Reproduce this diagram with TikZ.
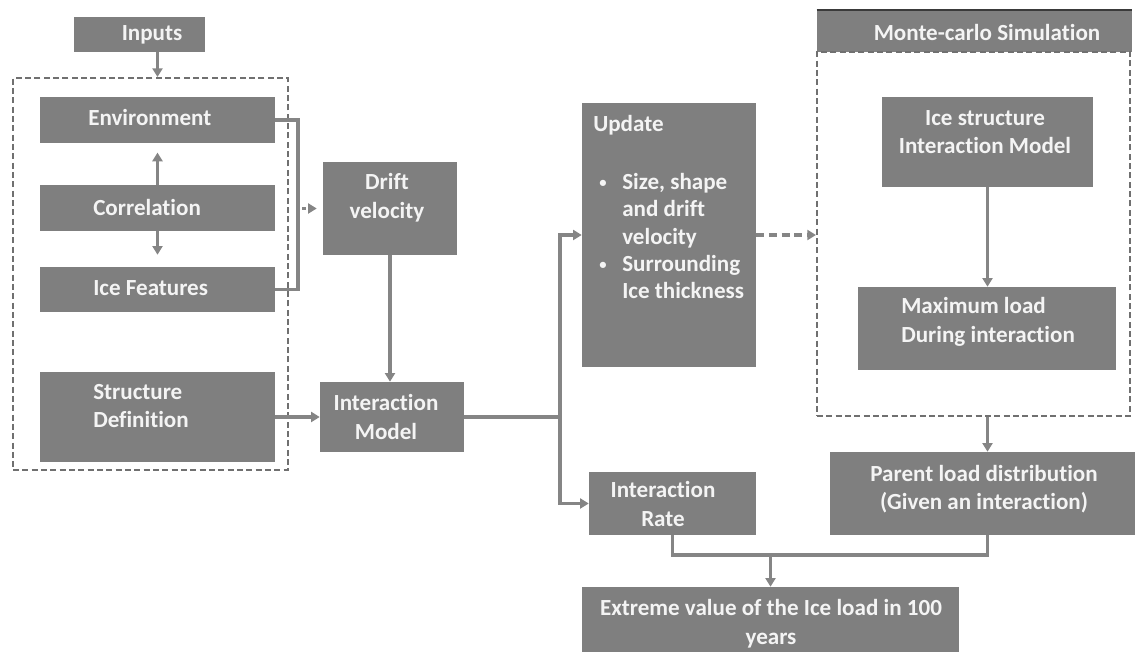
\documentclass[tikz,border=0pt]{standalone}
\usepackage{fontspec}
\setmainfont{Carlito}[Ligatures=NoCommon]
\usetikzlibrary{arrows.meta,calc}
\definecolor{boxgray}{HTML}{7F7F7F}
\definecolor{linegray}{HTML}{858585}
\definecolor{dashgray}{HTML}{707070}
\definecolor{darkline}{HTML}{3A3A3A}
\definecolor{txt}{HTML}{F4F4F4}
\newcommand\smbul{\raisebox{1.2pt}{\fontsize{11}{11}\selectfont\textbullet}}
\tikzset{
  box/.style={fill=boxgray, draw=none, inner sep=0pt},
  wh/.style 2 args={minimum width=#1*0.75pt, minimum height=#2*0.75pt},
  lbl/.style={text=txt, inner sep=0pt, font=\bfseries\fontsize{17.3}{21.5}\selectfont},
  conn/.style={draw=linegray, line width=2.3pt},
  arr/.style={conn, -{Triangle[length=6.5pt,width=7.5pt]}},
  dbox/.style={draw=dashgray, line width=1.5pt, dash pattern=on 4.5pt off 2.5pt, inner sep=0pt},
}
\begin{document}
\begin{tikzpicture}[x=0.75pt,y=-0.75pt]
\useasboundingbox (0,0) rectangle (1140,655);

% dashed frames
\node[dbox, wh={275}{392}] (inbox) at (150.5,274) {};
\node[box, wh={315}{42}] (mchead) at (974.5,31) {};
\draw[darkline, line width=1.5pt] (mchead.north west) -- (mchead.north east);
\node[dbox, wh={313}{364}] (mcbox) at (973.5,234) {};

% boxes
\node[box, wh={131}{35}]  (inputs)  at (139.5,34.5) {};
\node[box, wh={235}{46}]  (env)     at (157.5,120) {};
\node[box, wh={235}{46}]  (corr)    at (157.5,208) {};
\node[box, wh={235}{45}]  (icef)    at (157.5,289.5) {};
\node[box, wh={235}{90}]  (struct)  at (157.5,417) {};
\node[box, wh={134}{93}]  (drift)   at (390,208.5) {};
\node[box, wh={144}{70}]  (intm)    at (392,417) {};
\node[box, wh={174}{264}] (update)  at (669,235) {};
\node[box, wh={211}{90}]  (isim)    at (987.5,142) {};
\node[box, wh={258}{83}]  (maxl)    at (987,328.5) {};
\node[box, wh={305}{83}]  (parent)  at (982.5,493.5) {};
\node[box, wh={167}{63}]  (irate)   at (672.5,503.5) {};
\node[box, wh={377}{65}]  (extreme) at (770.5,619.5) {};

% texts
\node[lbl] (t-in) at (152,35) {Inputs};
\node[lbl, anchor=west] (t-env) at (88,117) {Environment};
\node[lbl, anchor=west] (t-corr) at (93,207) {Correlation};
\node[lbl, anchor=west] (t-icef) at (93,288) {Ice Features};
\node[lbl, anchor=west, align=left] (t-struct) at (93,406) {Structure\\Definition};
\node[lbl, align=center] (t-drift) at (387,198) {Drift\\velocity};
\node[lbl, align=center] (t-intm) at (386,417) {Interaction\\Model};
\node[lbl, anchor=west, align=left, font=\bfseries\fontsize{17.3}{20.6}\selectfont] (t-upd) at (593,207)
  {Update\\[22.9pt]
   \hspace*{4.5pt}\makebox[17.25pt][l]{\smbul}Size, shape\\
   \hspace*{21.75pt}and drift\\
   \hspace*{21.75pt}velocity\\
   \hspace*{4.5pt}\makebox[17.25pt][l]{\smbul}Surrounding\\
   \hspace*{21.75pt}Ice thickness};
\node[lbl] (t-mc) at (987,32) {Monte-carlo Simulation};
\node[lbl, align=center] (t-isim) at (985,132) {Ice structure\\Interaction Model};
\node[lbl, anchor=west, align=left] (t-maxl) at (901,322) {Maximum load\\During interaction};
\node[lbl, align=center] (t-parent) at (984,489) {Parent load distribution\\(Given an interaction)};
\node[lbl, align=center] (t-irate) at (663,504) {Interaction\\Rate};
\node[lbl, align=center] (t-ext) at (771,624) {Extreme value of the Ice load in 100\\years};

% connectors
\draw[arr] (inputs.south -| env.north) -- (inbox.north -| env.north);
\draw[arr, shorten >=7pt] (corr.north) -- (env.south);
\draw[arr, shorten >=9pt] (corr.south) -- (icef.north);
\coordinate (brx) at (298,208.5);
\draw[conn] (env.east) -| (brx) |- (icef.east);
\draw[arr, dash pattern=on 3pt off 2pt, shorten >=4.5pt] ([xshift=3pt]brx) -- (drift.west);
\draw[arr] (drift.south) -- (drift.south |- intm.north);
\draw[arr] (struct.east) -- (intm.west);
\coordinate (split) at (560,417);
\draw[conn] (intm.east) -- (split);
\draw[arr] (split) |- (update.west);
\draw[arr] (split) |- (irate.west);
\draw[arr, dash pattern=on 6pt off 3.5pt] (update.east) -- (update.east -| mcbox.west);
\draw[arr] (isim.south) -- (isim.south |- maxl.north);
\draw[arr] (mcbox.south -| isim.south) -- (parent.north -| isim.south);
\coordinate (m) at (770.5,555);
\draw[conn] (irate.south) |- (m) -| (parent.south -| isim.south);
\draw[arr] (m) -- (m |- extreme.north);
\end{tikzpicture}
\end{document}
